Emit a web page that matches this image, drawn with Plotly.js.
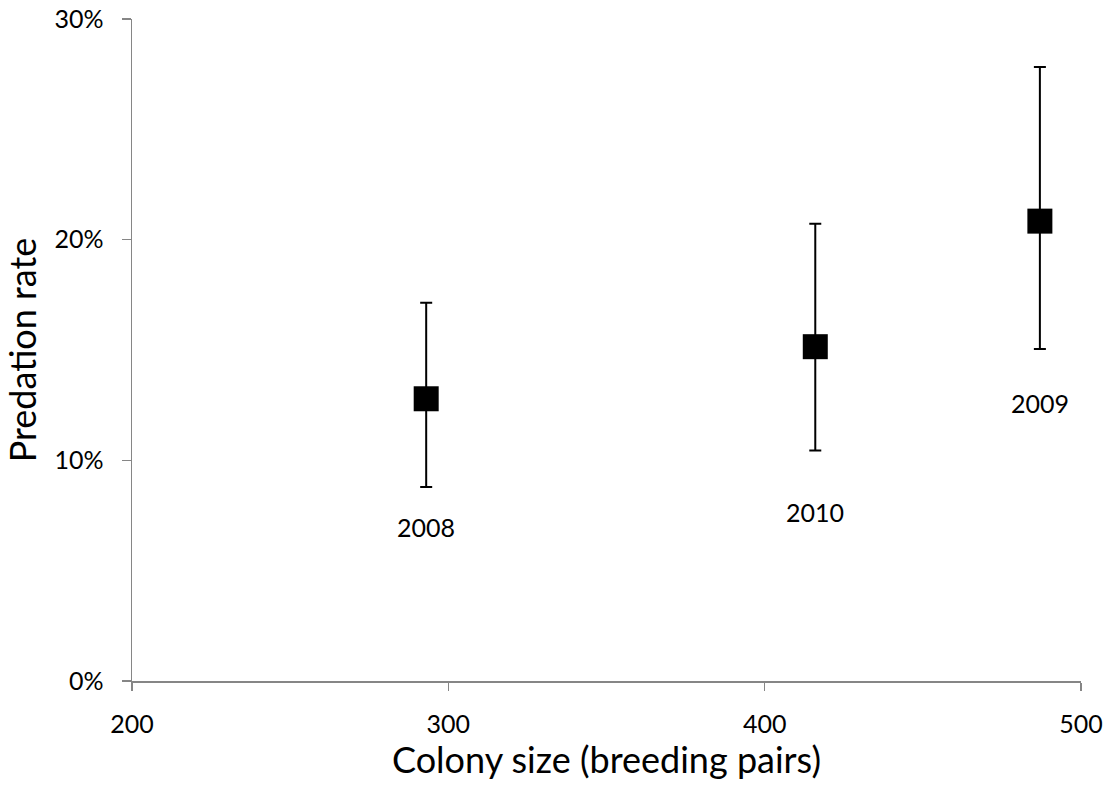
<!DOCTYPE html>
<html>
<head>
<meta charset="utf-8">
<script src="https://cdn.plot.ly/plotly-3.0.1.min.js"></script>
<style>html,body{margin:0;padding:0;background:#fff;}#chart{width:1108px;height:787px;}</style>
</head>
<body>
<div id="chart"></div>
<script>
// Data
const years = ['2008', '2010', '2009'];
const colonySize = [293, 416, 487];            // breeding pairs
const predationRate = [0.1279, 0.1515, 0.2084];
const errorUpper = [0.1714, 0.2072, 0.2782];    // top of error bar
const errorLower = [0.0879, 0.1045, 0.1504];    // bottom of error bar
const yTickVals = [0, 0.1, 0.2, 0.3];
const xTickVals = [200, 300, 400, 500];

const plusErr = predationRate.map((v, i) => errorUpper[i] - v);
const minusErr = predationRate.map((v, i) => v - errorLower[i]);

// label offsets (pixels below marker) as in the reference
const labelShift = [-128, -165, -182];

const font = "Lato, 'Open Sans', sans-serif";
const axisGray = '#868686';

const trace = {
  x: colonySize,
  y: predationRate,
  type: 'scatter',
  mode: 'markers',
  marker: {symbol: 'square', size: 25, color: '#000000'},
  error_y: {
    type: 'data', symmetric: false,
    array: plusErr, arrayminus: minusErr,
    color: '#000000', thickness: 2, width: 6
  },
  hoverinfo: 'x+y'
};

const annotations = years.map((t, i) => ({
  x: colonySize[i], y: predationRate[i], xref: 'x', yref: 'y',
  text: t, showarrow: false, yshift: labelShift[i],
  font: {family: font, size: 25, color: '#000'}
}));

const layout = {
  width: 1108, height: 787,
  margin: {l: 132, r: 27, t: 19, b: 106},
  paper_bgcolor: '#fff', plot_bgcolor: '#fff',
  showlegend: false,
  font: {family: font, color: '#000'},
  xaxis: {
    range: [200, 500], tickvals: xTickVals,
    showgrid: false, zeroline: false,
    showline: true, linecolor: axisGray, linewidth: 1.5,
    ticks: 'outside', ticklen: 8, tickcolor: axisGray, tickwidth: 1.5,
    ticklabelstandoff: 12,
    tickfont: {family: font, size: 25, color: '#000'},
    title: {text: 'Colony size (breeding pairs)', font: {family: font, size: 36, color: '#000'}, standoff: 1},
    automargin: false
  },
  yaxis: {
    range: [0, 0.30], tickvals: yTickVals, tickformat: '.0%',
    showgrid: false, zeroline: false,
    showline: true, linecolor: axisGray, linewidth: 1.5,
    ticks: 'outside', ticklen: 9, tickcolor: axisGray, tickwidth: 1.5,
    ticklabelstandoff: 13,
    tickfont: {family: font, size: 25, color: '#000'},
    title: {text: 'Predation rate', font: {family: font, size: 36, color: '#000'}, standoff: 8},
    automargin: false
  },
  annotations: annotations
};

Plotly.newPlot('chart', [trace], layout, {displayModeBar: false, staticPlot: true});
</script>
</body>
</html>
